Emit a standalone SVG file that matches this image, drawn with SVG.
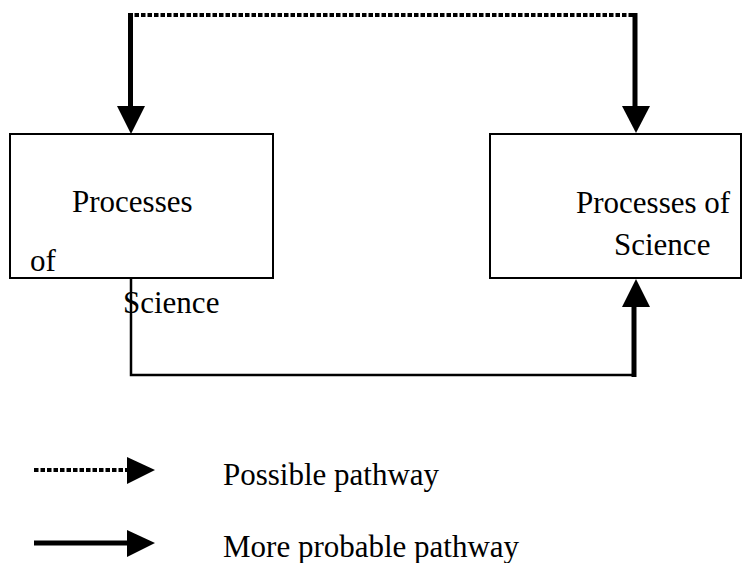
<svg xmlns="http://www.w3.org/2000/svg" width="742" height="563" viewBox="0 0 742 563">
<style>
  .box { fill: #fff; stroke: #000; stroke-width: 2; }
  .lbl { font-family: "Liberation Serif", "Times New Roman", serif; font-size: 31px; fill: #000; }
  .solid { fill: none; stroke: #000; stroke-width: 5; }
  .thin { fill: none; stroke: #000; stroke-width: 2.5; }
  .dash { fill: none; stroke: #000; stroke-width: 4; stroke-dasharray: 4.5 2; }
  .head { fill: #000; }
</style>
<rect width="742" height="563" fill="#fff"/>
<g id="node-left">
  <rect class="box" x="10" y="134" width="263" height="144"/>
</g>
<g id="node-right">
  <rect class="box" x="490" y="134" width="251" height="144"/>
  <text class="lbl" x="576" y="213">Processes of</text>
  <text class="lbl" x="614" y="255">Science</text>
</g>
<g id="connectors">
  <path class="dash" d="M128,15 H635"/>
  <path class="solid" d="M130.5,13 V108"/>
  <polygon class="head" points="117,106 145,106 131,134"/>
  <path class="solid" d="M635,13 V108"/>
  <polygon class="head" points="622,106 650,106 636,133"/>
  <path class="thin" d="M131,278 V375 H634 V306"/>
  <path class="solid" d="M634,377 V306"/>
  <polygon class="head" points="622,307 650,307 636,279"/>
</g>
<g id="node-left-text">
  <text class="lbl" x="72" y="212">Processes</text>
  <text class="lbl" x="30" y="271">of</text>
  <text class="lbl" x="123" y="313">Science</text>
</g>
<g id="legend">
  <path class="dash" d="M34,470 H128"/>
  <polygon class="head" points="127,457 127,484 155,470"/>
  <text class="lbl" x="223" y="485">Possible pathway</text>
  <path class="solid" d="M34,543 H128"/>
  <polygon class="head" points="127,530 127,557 155,543"/>
  <text class="lbl" x="223" y="557">More probable pathway</text>
</g>
</svg>
